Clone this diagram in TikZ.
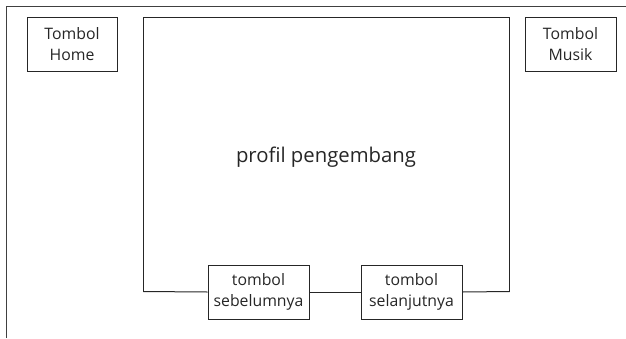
\documentclass[tikz,border=0pt]{standalone}
\usepackage{fontspec}
\setmainfont{Open Sans}
\begin{document}
\begin{tikzpicture}[x=1pt,y=-1pt,
  btn/.style={draw=black!85, line width=1pt, fill=white, inner sep=0pt,
    align=center, font=\fontsize{15.8}{20.5}\selectfont, text=black!85},
  frame/.style={draw=black!75, line width=1pt}]
\useasboundingbox (0,0) rectangle (626,338);
% outer frame (top and left edges)
\draw[frame] (6,338) -- (6,6) -- (626,6);
% corner buttons
\node[btn, minimum width=90pt, minimum height=54pt] (home) at (72,44) {Tombol\\Home};
\node[btn, minimum width=91pt, minimum height=54pt] (musik) at (570.5,44) {Tombol\\Musik};
% main panel
\coordinate (bl) at (143.5,291.5);
\coordinate (br) at (509.5,291.5);
\draw[draw=black!85, line width=1pt] (bl) -- (143.5,17.5) -- (509.5,17.5) -- (br);
\node[font=\fontsize{20.3}{24}\selectfont, text=black!85] (title) at (326,157) {profil pengembang};
% navigation buttons on the bottom edge
\node[btn, minimum width=101pt, minimum height=54pt] (prev) at (258.5,292) {tombol\\sebelumnya};
\node[btn, minimum width=101pt, minimum height=54pt] (next) at (411.5,292) {tombol\\selanjutnya};
\draw[draw=black!85, line width=1pt] (bl) -- (prev.west);
\draw[draw=black!85, line width=1pt] (prev.east) -- (next.west);
\draw[draw=black!85, line width=1pt] (next.east) -- (br);
\end{tikzpicture}
\end{document}
